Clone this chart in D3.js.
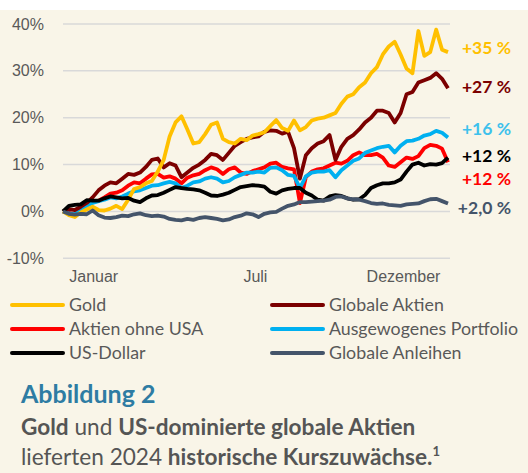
<!DOCTYPE html>
<html lang="de">
<head>
<meta charset="utf-8">
<title>Abbildung 2</title>
<script src="https://cdn.jsdelivr.net/npm/d3@7"></script>
<style>
  body { margin: 0; background: #fff; }
  svg { display: block; font-family: "Lato", "DejaVu Sans", sans-serif; }
  .grid line { stroke: #d9d9d9; stroke-width: 1.5px; }
  .axis text { fill: #595959; font-size: 16px; }
  .legend text { fill: #595959; font-size: 17.8px; }
  .endlabel { font-size: 17.5px; font-weight: bold; text-anchor: end; }
  .title { fill: #2e7ca3; font-size: 25px; font-weight: bold; }
  .sub { fill: #555; font-size: 22.6px; }
  .sub .b { font-weight: bold; }
</style>
</head>
<body>
<div id="chart"></div>
<script>
// tick labels
var yTicks = [-10, 0, 10, 20, 30, 40];
var xTickLabels = ["Januar", "Juli", "Dezember"];
var xTickIndex = [5.1, 32.4, 57.4];

var seriesNames = ["Gold", "Globale Aktien", "Aktien ohne USA", "Ausgewogenes Portfolio", "US-Dollar", "Globale Anleihen"];
var endLabels = ["+35 %", "+27 %", "+12 %", "+16 %", "+12 %", "+2,0 %"];

// cumulative return in %, sampled across 2024
var gold = [0, -0.8, -1.2, -0.2, 0.4, 1, 0.3, 0.2, 0.6, 1.2, 0.5, 2.5, 4.8, 5.2, 6, 6.5, 8.5, 11, 16, 19,
  20.3, 17.5, 14.5, 14.8, 16.5, 18.5, 19, 15.5, 14.8, 14.5, 15.5, 15.2, 16.2, 16.5, 16.9, 18.2, 19.5, 17.8, 17.2, 19.4,
  17.3, 18, 19.4, 19.8, 20, 20.5, 21, 23, 24.5, 25, 26.5, 27.5, 29.5, 30.8, 33.5, 35.2, 36.2, 33.5, 30.5, 29.5,
  38.5, 33.2, 34, 38.8, 34.5, 34];
var globalStocks = [0, 0.5, 0.3, 1, 1.8, 3, 4.5, 5.5, 6.2, 6, 7, 8, 7.8, 8.3, 9.5, 11, 11.3, 9.4, 10.3, 9.8,
  7.3, 8.3, 9.3, 10, 11, 12.3, 12, 11, 12.5, 14, 14.8, 15.5, 15.8, 16, 17, 17.3, 17.2, 16.6, 17, 13.5,
  7, 12, 13.5, 14.5, 15, 16.3, 11, 13.8, 15.5, 16.3, 17.5, 19, 20, 21.5, 21.5, 21, 19, 21, 25, 25.5,
  27.5, 28, 28.5, 29.5, 28.3, 26.3];
var exUsStocks = [0, -0.3, -0.8, 0.2, 1.5, 2, 2.3, 3, 3.8, 4, 4.5, 5.5, 6.2, 6, 7, 7.9, 8, 7.2, 7.5, 7,
  6, 7.2, 7.7, 8, 8.8, 9.4, 9, 8, 9, 9.4, 8.3, 8, 8.6, 9, 9.4, 10.2, 10.4, 9.5, 9.2, 9,
  1.8, 7.3, 8.5, 9, 9.2, 9.8, 10.4, 10.2, 10.8, 12, 12.6, 12, 12, 12.3, 11.5, 9.8, 9.5, 10.5, 11.5, 11.2,
  11.8, 13.5, 14.2, 14, 13.4, 10.5];
var balanced = [0, -0.4, -0.6, 0.3, 1.2, 1.8, 2.2, 2.5, 3, 2.8, 3.2, 3.8, 4.3, 4.5, 5, 5.5, 5.6, 6, 6.3, 6,
  5, 5.5, 6.2, 6.4, 7, 7.3, 7, 6.2, 6.5, 7.3, 7.8, 8.3, 8.3, 8.5, 8.3, 9.3, 9.4, 8.8, 7.8, 7.6,
  5, 7.5, 8.3, 8.5, 8.5, 8.8, 7.3, 8.8, 9.8, 10.8, 11.3, 12.5, 13, 13.5, 13.8, 14, 12.6, 14, 15, 15.1,
  15.5, 16.2, 16.5, 17.2, 16.8, 15.8];
var usDollar = [0, 1.2, 1.4, 1.5, 2.4, 2.3, 2.3, 2.8, 3.2, 3, 2.8, 2.9, 2.3, 2, 2.8, 3.4, 3.5, 4, 4.6, 5.2,
  5, 4.8, 4.7, 4.5, 4, 3.4, 3.3, 3.6, 4, 4.6, 5.2, 5.4, 5.6, 5.5, 5.3, 4.2, 3.8, 4.5, 4.8, 5,
  5, 4, 3.4, 2.5, 2.3, 3.2, 3.5, 3.3, 2.8, 2.5, 2.6, 3.5, 5, 5.6, 6, 6, 6.2, 6.8, 8.5, 10,
  10.4, 9.8, 10.1, 10, 10.3, 11.5];
var globalBonds = [0, -0.5, -0.7, -0.5, -0.6, 0.2, -0.8, -1.3, -1.4, -1.2, -0.9, -1, -0.6, -0.4, -0.8, -1, -0.9, -1.1, -1.6, -1.8,
  -1.9, -1.6, -1.8, -1.4, -1.2, -1.4, -1.6, -1.9, -1.7, -1.2, -0.9, -0.4, -0.6, -1.2, -0.5, -0.2, -0.1, 0.6, 1.2, 1.5,
  2, 2, 2.1, 2.2, 2.3, 2.5, 3.1, 3.2, 2.8, 2.6, 2.5, 2.2, 1.8, 1.6, 1.7, 1.4, 1.3, 1.2, 1.5, 1.6,
  1.7, 2.2, 2.6, 2.7, 2.2, 1.7];

var colors = ["#ffc000", "#7b0000", "#ff0000", "#00b0f0", "#000000", "#44546a"];
var labelColors = ["#ffc000", "#7b0000", "#ff0000", "#3ec1ec", "#000000", "#44546a"];
var labelNudge = [-4, -1, 17, -9, -2, 4];

var series = [gold, globalStocks, exUsStocks, balanced, usDollar, globalBonds];

var W = 528, H = 473;
var svg = d3.select("#chart").append("svg").attr("width", W).attr("height", H);

svg.append("rect").attr("x", 0).attr("y", 10).attr("width", W).attr("height", H - 10).attr("fill", "#f9f5e8");

var x = d3.scaleLinear().domain([0, gold.length - 1]).range([63, 448]);
var y = d3.scaleLinear().domain([-10, 40]).range([258.3, 24]);

// grid
svg.append("g").attr("class", "grid")
   .selectAll("line").data(yTicks).enter().append("line")
   .attr("x1", 63).attr("x2", 450)
   .attr("y1", function(d) { return y(d); })
   .attr("y2", function(d) { return y(d); });

var yAxis = d3.axisLeft(y).tickValues(yTicks).tickSize(0).tickPadding(0)
              .tickFormat(function(d) { return d + "%"; });
svg.append("g").attr("class", "axis").attr("transform", "translate(44,0)").call(yAxis)
   .call(function(g) { g.select(".domain").remove(); });

var xAxis = d3.axisBottom(x).tickValues(xTickIndex).tickSize(0).tickPadding(0)
              .tickFormat(function(d, i) { return xTickLabels[i]; });
svg.append("g").attr("class", "axis").attr("transform", "translate(0,271)").call(xAxis)
   .call(function(g) { g.select(".domain").remove(); });

var line = d3.line().x(function(d, i) { return x(i); }).y(function(d) { return y(d); });

var drawOrder = [2, 3, 1, 0, 4, 5];
drawOrder.forEach(function(k) {
  svg.append("path")
     .attr("d", line(series[k]))
     .attr("fill", "none")
     .attr("stroke", colors[k])
     .attr("stroke-width", 3.8)
     .attr("stroke-linejoin", "round");
});

// end labels
series.forEach(function(s, k) {
  svg.append("text").attr("class", "endlabel")
     .attr("x", 511)
     .attr("y", y(s[s.length - 1]) + labelNudge[k])
     .attr("dy", "0.35em")
     .attr("fill", labelColors[k])
     .text(endLabels[k]);
});

// legend
var legend = svg.append("g").attr("class", "legend");
var legendOrder = [0, 1, 2, 3, 4, 5];
legendOrder.forEach(function(k, i) {
  var col = i % 2, row = Math.floor(i / 2);
  var gx = col === 0 ? 12 : 272, gy = 305 + row * 24;
  legend.append("line").attr("x1", gx).attr("x2", gx + 51).attr("y1", gy).attr("y2", gy)
        .attr("stroke", colors[k]).attr("stroke-width", 4).attr("stroke-linecap", "round");
  legend.append("text").attr("x", gx + 57).attr("y", gy).attr("dy", "0.35em").text(seriesNames[k]);
});

// caption
svg.append("text").attr("class", "title").attr("x", 21).attr("y", 403).text("Abbildung 2");

var l1 = svg.append("text").attr("class", "sub").attr("x", 21).attr("y", 435);
l1.append("tspan").attr("class", "b").text("Gold");
l1.append("tspan").text(" und ");
l1.append("tspan").attr("class", "b").text("US-dominierte globale Aktien");

var l2 = svg.append("text").attr("class", "sub").attr("x", 21).attr("y", 465);
l2.append("tspan").text("lieferten 2024 ");
l2.append("tspan").attr("class", "b").text("historische Kurszuwächse.");
l2.append("tspan").attr("class", "b").attr("dy", -9).attr("font-size", "13px").text("1");
</script>
</body>
</html>
